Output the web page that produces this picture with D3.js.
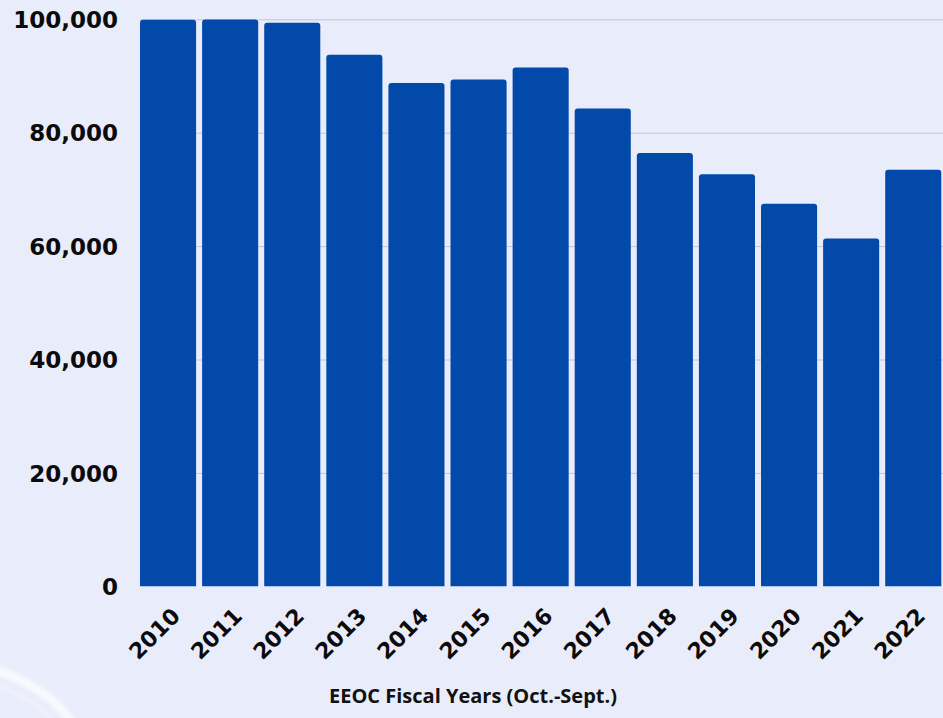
<!DOCTYPE html>
<html><head><meta charset="utf-8">
<script src="https://cdn.jsdelivr.net/npm/d3@7"></script>
<style>
html,body{margin:0;padding:0;background:#e9ecfa;}
svg{display:block;}
</style></head>
<body>
<svg id="chart" width="943" height="718"></svg>
<script>
const years = ["2010","2011","2012","2013","2014","2015","2016","2017","2018","2019","2020","2021","2022"];
const charges = [99922,99947,99412,93727,88778,89385,91503,84254,76418,72675,67448,61331,73485];
const yTicks = [0,20000,40000,60000,80000,100000];
const xTitle = "EEOC Fiscal Years (Oct.-Sept.)";

const svg = d3.select("#chart");
const W = 943, H = 718;
svg.append("rect").attr("width",W).attr("height",H).attr("fill","#e9ecfa");

// decorative arc lower-left
const defs = svg.append("defs");
defs.append("filter").attr("id","blur").append("feGaussianBlur").attr("stdDeviation",2);
svg.append("circle").attr("cx",-40).attr("cy",806).attr("r",140)
  .attr("fill","none").attr("stroke","#ffffff").attr("stroke-width",9)
  .attr("opacity",0.75).attr("filter","url(#blur)");
svg.append("circle").attr("cx",-40).attr("cy",806).attr("r",126)
  .attr("fill","none").attr("stroke","#ffffff").attr("stroke-width",4)
  .attr("opacity",0.35).attr("filter","url(#blur)");

const x = d3.scaleBand().domain(years).range([137, 944.3]).paddingInner(0.097).paddingOuter(0.0485);
const y = d3.scaleLinear().domain([0,100000]).range([586.3, 19.3]);

// gridlines
svg.append("g").selectAll("line").data(yTicks.filter(d=>d>0)).join("line")
  .attr("x1",140).attr("x2",943)
  .attr("y1",d=>y(d)+0.5).attr("y2",d=>y(d)+0.5)
  .attr("stroke","#c3c7d6").attr("stroke-width",1);

// bars with rounded top corners
const r = 3;
svg.append("g").selectAll("path").data(years.map((yr,i)=>({yr,v:charges[i]}))).join("path")
  .attr("fill","#0349aa")
  .attr("d",d=>{
    const x0=x(d.yr), w=x.bandwidth(), y0=y(d.v), y1=y(0);
    return `M${x0},${y1}V${y0+r}Q${x0},${y0} ${x0+r},${y0}H${x0+w-r}Q${x0+w},${y0} ${x0+w},${y0+r}V${y1}Z`;
  });

// y axis labels
const yAxis = d3.axisLeft(y).tickValues(yTicks).tickFormat(d3.format(",")).tickSize(0).tickPadding(0);
const ya = svg.append("g").attr("transform","translate(118,0)").call(yAxis);
ya.select(".domain").remove();
ya.selectAll("text").attr("font-family","DejaVu Sans").attr("font-weight","bold")
  .attr("font-size",23).attr("fill","#0b0b0b").attr("dy","0.36em");

// x axis labels
const xAxis = d3.axisBottom(x).tickSize(0).tickPadding(0);
const xa = svg.append("g").attr("transform","translate(0,586)").call(xAxis);
xa.select(".domain").remove();
xa.selectAll("text")
  .attr("font-family","DejaVu Sans").attr("font-weight","bold").attr("font-size",22)
  .attr("fill","#0b0b0b").attr("text-anchor","end")
  .attr("dy","0.35em").attr("y",0)
  .attr("transform","translate(8,26) rotate(-45)");

// x title
svg.append("text").attr("x",473).attr("y",703).attr("text-anchor","middle")
  .attr("font-family","Open Sans").attr("font-weight",700).attr("font-size",20)
  .attr("fill","#111").text(xTitle);
</script>
</body></html>
